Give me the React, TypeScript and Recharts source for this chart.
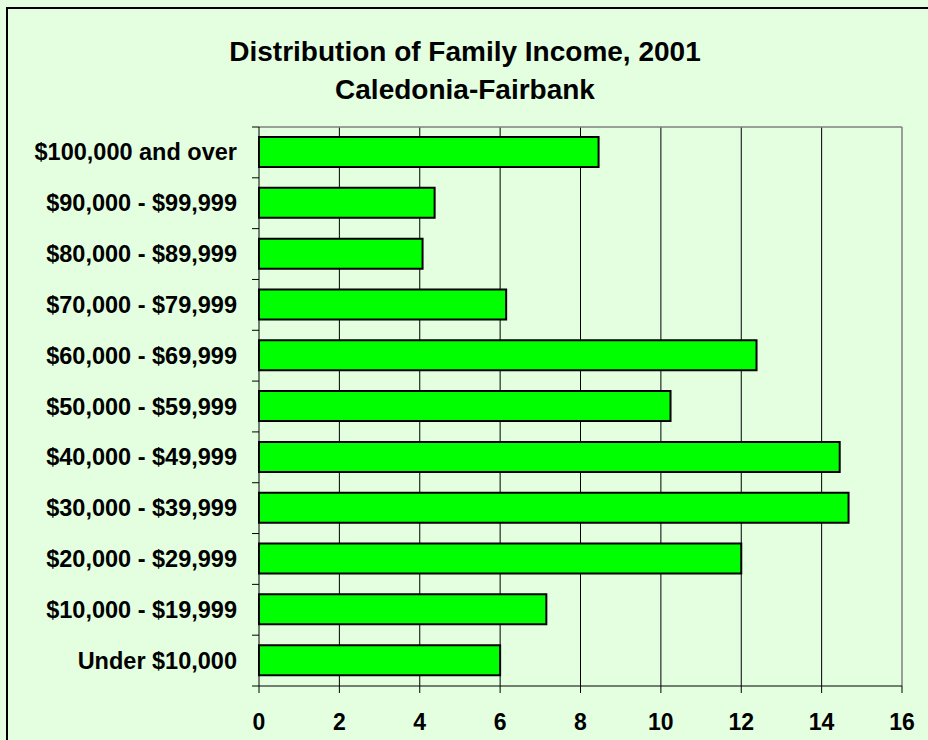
import React from 'react';
import {
  BarChart,
  Bar,
  XAxis,
  YAxis,
  CartesianGrid,
  ReferenceLine,
} from 'recharts';

const incomeBrackets = [
  '$100,000 and over',
  '$90,000 - $99,999',
  '$80,000 - $89,999',
  '$70,000 - $79,999',
  '$60,000 - $69,999',
  '$50,000 - $59,999',
  '$40,000 - $49,999',
  '$30,000 - $39,999',
  '$20,000 - $29,999',
  '$10,000 - $19,999',
  'Under $10,000',
];

const percentFamilies = [8.45, 4.37, 4.07, 6.15, 12.38, 10.24, 14.45, 14.67, 12.0, 7.15, 6.0];

const xTicks = [0, 2, 4, 6, 8, 10, 12, 14, 16];
const gridLines = [2, 4, 6, 8, 10, 12, 14];

const data = incomeBrackets.map((name, i) => ({ name, value: percentFamilies[i] }));

const W = 928;
const H = 740;
const TOP = 127;
const BOTTOM = 54;
const AXIS_W = 259;
const RIGHT = 26;
const BAND = (H - TOP - BOTTOM) / incomeBrackets.length;
const FONT = '"Liberation Sans", Arial, sans-serif';
const BG = '#E3FFE0';

// Excel style: ticks sit on the band edges, labels in the band middle
const CategoryTick = (props: any) => {
  const { y, index, payload } = props;
  const last = index === incomeBrackets.length - 1;
  return (
    <g>
      <line x1={AXIS_W - 7} x2={AXIS_W} y1={y - BAND / 2} y2={y - BAND / 2} stroke="#000" />
      {last && <line x1={AXIS_W - 7} x2={AXIS_W} y1={y + BAND / 2} y2={y + BAND / 2} stroke="#000" />}
      <text
        x={AXIS_W - 22}
        y={y}
        textAnchor="end"
        dominantBaseline="central"
        fontFamily={FONT}
        fontWeight="bold"
        fontSize={23.5}
        fill="#000"
      >
        {payload.value}
      </text>
    </g>
  );
};

export default function App() {
  return (
    <div style={{ position: 'absolute', left: 0, top: 0, width: W, height: H, background: BG, overflow: 'hidden' }}>
      <div
        style={{
          position: 'absolute',
          left: 6,
          top: 7,
          width: W,
          height: H,
          borderLeft: '2px solid #000',
          borderTop: '2px solid #000',
        }}
      />
      <div
        style={{
          position: 'absolute',
          left: 2,
          top: 33,
          width: 926,
          textAlign: 'center',
          fontFamily: FONT,
          fontWeight: 'bold',
          fontSize: 28,
          lineHeight: '37.8px',
          color: '#000',
        }}
      >
        Distribution of Family Income, 2001
        <br />
        Caledonia-Fairbank
      </div>
      <div style={{ position: 'absolute', left: 0, top: 0 }}>
        <BarChart
          width={W}
          height={H}
          data={data}
          layout="vertical"
          margin={{ top: TOP, right: RIGHT, bottom: 0, left: 0 }}
          barSize={30}
        >
          <CartesianGrid horizontal={false} verticalValues={gridLines} stroke="#000" />
          <XAxis
            type="number"
            domain={[0, 16]}
            ticks={xTicks}
            interval={0}
            height={BOTTOM}
            tickSize={7}
            tickMargin={21}
            axisLine={{ stroke: '#000' }}
            tickLine={{ stroke: '#000' }}
            tick={{ fill: '#000', fontFamily: FONT, fontWeight: 'bold', fontSize: 23 }}
          />
          <YAxis
            type="category"
            dataKey="name"
            width={AXIS_W}
            interval={0}
            tickLine={false}
            axisLine={{ stroke: '#000' }}
            tick={CategoryTick}
          />
          <ReferenceLine x={16} stroke="#808080" strokeWidth={1.5} />
          <ReferenceLine y={incomeBrackets[0]} position="start" stroke="#808080" strokeWidth={1.5} />
          <Bar dataKey="value" fill="#00FF00" stroke="#000" strokeWidth={2} isAnimationActive={false} />
        </BarChart>
      </div>
    </div>
  );
}
